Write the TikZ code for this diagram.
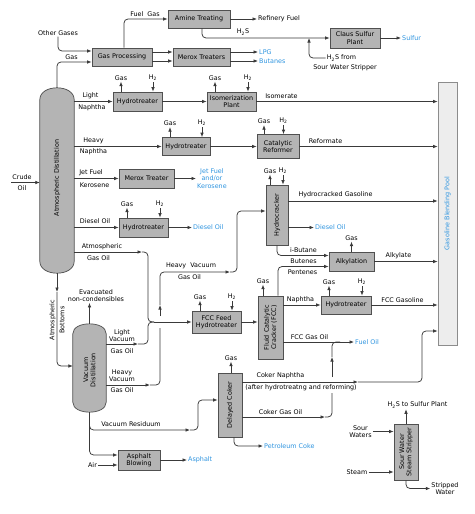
\documentclass[tikz,border=0pt]{standalone}
\usepackage{fontspec}
\setmainfont{DejaVu Sans}
\usetikzlibrary{arrows.meta,positioning}
\definecolor{Pipe}{HTML}{3A3A3A}
\definecolor{BoxEdge}{HTML}{505050}
\definecolor{BoxFill}{HTML}{B4B4B4}
\definecolor{PoolFill}{HTML}{EDEDED}
\definecolor{PoolEdge}{HTML}{8C8C8C}
\definecolor{Product}{HTML}{2F95E0}

\begin{document}
\begin{tikzpicture}[x=1pt,y=-1pt,
  lbl/.style={font=\fontsize{6.4}{7.4}\selectfont,inner sep=1pt,text=black},
  prod/.style={lbl,text=Product},
  unit/.style={draw=BoxEdge,fill=BoxFill,line width=0.7pt,font=\fontsize{6.4}{7.4}\selectfont,align=center,inner sep=1pt},
  colm/.style={draw=BoxEdge,fill=BoxFill,line width=0.7pt},
  pipe/.style={draw=Pipe,line width=0.75pt,rounded corners=4pt},
  flow/.style={pipe,-{Latex[length=4.5pt,width=3.6pt]}},
  inflow/.style={pipe,{Latex[length=4.5pt,width=3.6pt]}-}
]
\fill[white] (0,0) rectangle (474,514);
\useasboundingbox (0,0) rectangle (474,514);

% columns
\node[minimum width=34,minimum height=185,inner sep=0] (atm) at (57,180.5) {};
\node[minimum width=33,minimum height=88,inner sep=0] (vac) at (89.5,368) {};
\draw[colm] ([yshift=-12pt]atm.north west) .. controls ([yshift=4pt]atm.north west) and ([yshift=4pt]atm.north east) .. ([yshift=-12pt]atm.north east)
  -- ([yshift=12pt]atm.south east) .. controls ([yshift=-4pt]atm.south east) and ([yshift=-4pt]atm.south west) .. ([yshift=12pt]atm.south west) -- cycle;
\draw[colm] ([yshift=-10pt]vac.north west) .. controls ([yshift=3.3pt]vac.north west) and ([yshift=3.3pt]vac.north east) .. ([yshift=-10pt]vac.north east)
  -- ([yshift=10pt]vac.south east) .. controls ([yshift=-3.3pt]vac.south east) and ([yshift=-3.3pt]vac.south west) .. ([yshift=10pt]vac.south west) -- cycle;
\node[lbl,rotate=90] (atmtxt) at (57,178) {Atmospheric Distillation};
\node[lbl,rotate=90,align=center] (vactxt) at (89.5,370) {Vacuum\\Distillation};

% units
\node[unit,minimum width=60,minimum height=18] (gasproc) at (122,57) {Gas Processing};
\node[unit,minimum width=62,minimum height=18] (amine) at (199,19) {Amine Treating};
\node[unit,minimum width=50,minimum height=20] (claus) at (355,38) {Claus Sulfur\\Plant};
\node[unit,minimum width=57,minimum height=18] (merox) at (201.5,57) {Merox Treaters};
\node[unit,minimum width=49,minimum height=19] (ht1) at (137.5,101.5) {Hydrotreater};
\node[unit,minimum width=49,minimum height=19] (isom) at (231.5,101.5) {Isomerization\\Plant};
\node[unit,minimum width=48,minimum height=18] (ht2) at (186,146.5) {Hydrotreater};
\node[unit,minimum width=42,minimum height=24] (reform) at (278,146.5) {Catalytic\\Reformer};
\node[unit,minimum width=55,minimum height=19] (meroxt) at (146.5,178.5) {Merox Treater};
\node[unit,minimum width=49,minimum height=19] (ht3) at (143.5,227.5) {Hydrotreater};
\node[unit,minimum width=49,minimum height=22] (fccht) at (216.5,322) {FCC Feed\\Hydrotreater};
\node[unit,minimum width=22,minimum height=60] (hcrack) at (277,215) {};
\node[unit,minimum width=45,minimum height=19] (alky) at (351.5,261.5) {Alkylation};
\node[unit,minimum width=25,minimum height=63] (fcc) at (270.5,327.5) {};
\node[unit,minimum width=50,minimum height=18] (ht4) at (346,305) {Hydrotreater};
\node[unit,minimum width=24,minimum height=64] (coker) at (230,405) {};
\node[unit,minimum width=42,minimum height=20] (asphalt) at (139,460) {Asphalt\\Blowing};
\node[unit,minimum width=24,minimum height=56] (sws) at (406,452) {};
\node[draw=PoolEdge,fill=PoolFill,line width=0.6pt,minimum width=19,minimum height=263] (pool) at (447.5,213.5) {};
\node[lbl,rotate=90] (hcracktxt) at (hcrack) {Hydrocracker};
\node[lbl,rotate=90,align=center] (fcctxt) at (fcc) {Fluid Catalytic\\Cracker (FCC)};
\node[lbl,rotate=90] (cokertxt) at (coker) {Delayed Coker};
\node[lbl,rotate=90,align=center] (swstxt) at (sws) {Sour Water\\Steam Stripper};
\node[prod,rotate=90] (pooltxt) at (pool) {Gasoline Blending Pool};

% stream labels
\node[lbl] (crude) at (22,177) {Crude};
\node[lbl] (oil) at (22,188) {Oil};
\node[lbl] (othg) at (58,33) {Other Gases};
\node[lbl] (gaslbl) at (71.5,57) {Gas};
\node[lbl] (fuelg) at (145,14) {Fuel\ \ Gas};
\node[lbl,anchor=west] (rfuel) at (257,19) {Refinery Fuel};
\node[lbl] (h2slbl) at (243,32) {H\textsubscript{2}S};
\node[lbl] (h2sfrom) at (341.5,58) {H\textsubscript{2}S from};
\node[lbl] (swsnote) at (345,68) {Sour Water Stripper};
\node[prod,anchor=west] (sulfur) at (401,38) {Sulfur};
\node[prod,anchor=west] (lpg) at (258,52) {LPG};
\node[prod,anchor=west] (butanes) at (258,61) {Butanes};
\node[lbl] (light) at (90.5,96) {Light};
\node[lbl] (lnaph) at (92,107.5) {Naphtha};
\node[lbl] (isomlbl) at (281.5,96) {Isomerate};
\node[lbl] (heavy) at (93.5,141) {Heavy};
\node[lbl] (hnaph) at (93.5,152) {Naphtha};
\node[lbl] (reflbl) at (325.5,141) {Reformate};
\node[lbl] (jet) at (91,173) {Jet Fuel};
\node[lbl] (kero) at (94.5,185) {Kerosene};
\node[prod,align=center,anchor=west] (jetout) at (196,178.5) {Jet Fuel\\and/or\\Kerosene};
\node[lbl] (dsl) at (95,221) {Diesel Oil};
\node[prod,anchor=west] (diesel) at (192,227.5) {Diesel Oil};
\node[lbl] (atmgo) at (102,247) {Atmospheric};
\node[lbl] (atmgo2) at (98.5,258) {Gas Oil};
\node[lbl,align=center] (evac) at (96,295.5) {Evacuated\\non-condensibles};
\node[lbl,rotate=90,align=center] (atmb) at (57,320) {Atmospheric\\[2.5pt]Bottoms};
\node[lbl,align=center] (lvgo) at (122,335.5) {Light\\Vacuum};
\node[lbl] (lvgo2) at (122,351) {Gas Oil};
\node[lbl,align=center] (hvgo) at (122,376) {Heavy\\Vacuum};
\node[lbl] (hvgo2) at (122,390) {Gas Oil};
\node[lbl] (hvac) at (191,266) {Heavy\ \ Vacuum};
\node[lbl] (hvac2) at (189.5,277.5) {Gas Oil};
\node[lbl] (hcg) at (335.5,195) {Hydrocracked Gasoline};
\node[prod,anchor=west] (diesel2) at (314,227.5) {Diesel Oil};
\node[lbl] (ibut) at (303.5,250) {i-Butane};
\node[lbl] (butenes) at (303.5,261.5) {Butenes};
\node[lbl] (pentenes) at (302.5,272) {Pentenes};
\node[lbl] (alkylate) at (398.5,256) {Alkylate};
\node[lbl] (naph) at (300.5,300) {Naphtha};
\node[lbl] (fccg) at (402.5,300) {FCC Gasoline};
\node[lbl] (fccgo) at (309.5,337) {FCC Gas Oil};
\node[prod,anchor=west] (fueloil) at (354,342) {Fuel Oil};
\node[lbl] (cnaph) at (280.5,376) {Coker Naphtha};
\node[lbl] (after) at (301,388) {(after hydrotreatng and reforming)};
\node[lbl] (cgo) at (280.5,412) {Coker Gas Oil};
\node[prod,anchor=west] (pcoke) at (263,446) {Petroleum Coke};
\node[lbl] (vres) at (131,424) {Vacuum Residuum};
\node[lbl] (air) at (92.5,465) {Air};
\node[prod,anchor=west] (asph) at (187,460) {Asphalt};
\node[lbl] (h2ssp) at (417.5,405) {H\textsubscript{2}S to Sulfur Plant};
\node[lbl,align=center] (sourw) at (360.5,431.5) {Sour\\Waters};
\node[lbl] (steam) at (357,472) {Steam};
\node[lbl,align=center] (stripped) at (445,488.5) {Stripped\\Water};

% bends and gaps
\coordinate (crudein) at (11,182.5);
\coordinate (h2sjoin) at (309,38);
\coordinate (agoarr) at (142,252);
\coordinate (brace) at (148,322);
\coordinate (feed) at (154,322);
\coordinate (lvgoarr) at (138,344);
\coordinate (hvgoarr) at (150,385);
\coordinate (hvgap1) at (160,328);
\coordinate (hvgap2) at (160,316);
\coordinate (hvup) at (160,305);
\coordinate (hvarr) at (230,272);
\coordinate (hvrise) at (237,230);
\coordinate (bottarr) at (57,292);
\coordinate (vrarr) at (190,430);
\coordinate (vrrise) at (198,410);
\coordinate (cnarr) at (358,382);
\coordinate (cnrise) at (422,356);
\coordinate (cnend) at ([yshift=-117.5pt]pool.west);
\coordinate (cgoarr) at (325,417);
\coordinate (cgogap1) at (332,393);
\coordinate (cgogap2) at (332,377);
\coordinate (cgoup) at (332,357);
\coordinate (cgojoin) at (340,342);

% gas plant
\draw[flow] (crudein) -- (atm.west |- crudein);
\draw[flow] (othg.south) |- ([yshift=6pt]gasproc.west);
\draw[flow] (atm.north) |- ([yshift=-5pt]gasproc.west);
\draw[flow] ([xshift=2pt]gasproc.north) |- (amine.west);
\draw[flow] (amine.east) -- (rfuel.west);
\draw[flow] ([xshift=3pt]amine.south) |- (claus.west);
\draw[flow] (h2sfrom.west) -| (h2sjoin);
\draw[flow] (claus.east) -- (sulfur.west);
\draw[flow] ([yshift=5pt]gasproc.east) -- ([yshift=5pt]merox.west);
\draw[flow] ([yshift=-4pt]gasproc.east) -- ([yshift=-4pt]merox.west);
\draw[flow] ([yshift=5pt]merox.east) -- (lpg.west);
\draw[flow] ([yshift=-4pt]merox.east) -- (butanes.west);

% gas and hydrogen
\draw[flow] ([xshift=-16.5pt]ht1.north) -- ++(0,-10) node[lbl,above] (ht1gas) {Gas};
\draw[inflow] ([xshift=15.5pt]ht1.north) -- ++(0,-10) node[lbl,above] (ht1h2) {H\textsubscript{2}};
\draw[flow] ([xshift=-16.5pt]isom.north) -- ++(0,-10) node[lbl,above] (isomgas) {Gas};
\draw[inflow] ([xshift=16.5pt]isom.north) -- ++(0,-10) node[lbl,above] (isomh2) {H\textsubscript{2}};
\draw[flow] ([xshift=-16pt]ht2.north) -- ++(0,-10) node[lbl,above] (ht2gas) {Gas};
\draw[inflow] ([xshift=16pt]ht2.north) -- ++(0,-10) node[lbl,above] (ht2h2) {H\textsubscript{2}};
\draw[flow] ([xshift=-14pt]reform.north) -- ++(0,-9) node[lbl,above] (refgas) {Gas};
\draw[inflow] ([xshift=5.5pt]reform.north) -- ++(0,-9) node[lbl,above] (refh2) {H\textsubscript{2}};
\draw[flow] ([xshift=-16.5pt]ht3.north) -- ++(0,-10) node[lbl,above] (ht3gas) {Gas};
\draw[inflow] ([xshift=16.5pt]ht3.north) -- ++(0,-10) node[lbl,above] (ht3h2) {H\textsubscript{2}};
\draw[flow] ([xshift=-16.5pt]fccht.north) -- ++(0,-10) node[lbl,above] (fcchtgas) {Gas};
\draw[inflow] ([xshift=15.5pt]fccht.north) -- ++(0,-10) node[lbl,above] (fcchth2) {H\textsubscript{2}};
\draw[flow] ([xshift=-7pt]hcrack.north) -- ++(0,-10) node[lbl,above] (hcrackgas) {Gas};
\draw[inflow] ([xshift=6pt]hcrack.north) -- ++(0,-10) node[lbl,above] (hcrackh2) {H\textsubscript{2}};
\draw[flow] (alky.north) -- ++(0,-10) node[lbl,above] (alkygas) {Gas};
\draw[flow] ([xshift=-7.5pt]fcc.north) -- ++(0,-11) node[lbl,above] (fccgas) {Gas};
\draw[flow] ([xshift=-17pt]ht4.north) -- ++(0,-10) node[lbl,above] (ht4gas) {Gas};
\draw[inflow] ([xshift=16pt]ht4.north) -- ++(0,-10) node[lbl,above] (ht4h2) {H\textsubscript{2}};
\draw[flow] ([xshift=1pt]coker.north) -- ++(0,-11) node[lbl,above] (cokergas) {Gas};

% atmospheric side streams
\draw[flow] (atm.east |- ht1.west) -- (ht1.west);
\draw[flow] (ht1.east) -- (isom.west);
\draw[flow] (isom.east) -- (isom.east -| pool.west);
\draw[flow] (atm.east |- ht2.west) -- (ht2.west);
\draw[flow] (ht2.east) -- (reform.west);
\draw[flow] (reform.east) -- (reform.east -| pool.west);
\draw[flow] (atm.east |- meroxt.west) -- (meroxt.west);
\draw[flow] (meroxt.east) -- (jetout.west);
\draw[flow] (atm.east |- ht3.west) -- (ht3.west);
\draw[flow] (ht3.east) -- (diesel.west);
\draw[flow] (atm.east |- agoarr) -- (agoarr);
\draw[pipe] (agoarr) -| (brace) -- (feed);
\draw[flow] (atm.south) -- (bottarr);
\draw[flow] (bottarr) |- ([yshift=2pt]vac.west);

% vacuum side streams
\draw[flow] (vac.north) -- (vac.north |- evac.south);
\draw[flow] (vac.east |- lvgoarr) -- (lvgoarr);
\draw[pipe] (lvgoarr) -| (brace) -- (feed);
\draw[flow] (feed) -- (fccht.west);
\draw[flow] (vac.east |- hvgoarr) -- (hvgoarr);
\draw[pipe] (hvgoarr) -| (hvgap1);
\draw[flow] (hvgap2) -- (hvup);
\draw[flow] (hvup) |- (hvarr);
\draw[flow] (hvarr) -| (hvrise) |- ([yshift=4pt]hcrack.west);
\draw[flow] (vac.south) |- (vrarr);
\draw[flow] (vrarr) -| (vrrise) |- ([yshift=5pt]coker.west);
\draw[flow] (vac.south) |- ([yshift=5pt]asphalt.west);
\draw[flow] (air.east) -- ([yshift=-5pt]asphalt.west);
\draw[flow] (asphalt.east) -- (asph.west);

% conversion units
\draw[flow] ([yshift=14pt]hcrack.east) -- ([yshift=14pt]hcrack.east -| pool.west);
\draw[flow] ([yshift=-12.5pt]hcrack.east) -- (diesel2.west);
\draw[flow] (hcrack.south) |- ([yshift=6pt]alky.west);
\draw[flow] ([xshift=7.5pt]fcc.north) |- ([yshift=-5pt]alky.west);
\draw[flow] (alky.east) -- (alky.east -| pool.west);
\draw[flow] (fccht.east) -- (fcc.west |- fccht.east);
\draw[flow] (fcc.east |- ht4.west) -- (ht4.west);
\draw[flow] (ht4.east) -- (ht4.east -| pool.west);
\draw[flow] (fcc.east |- fueloil.west) -- (fueloil.west);
\draw[flow] (coker.east |- cnarr) -- (cnarr);
\draw[flow] (cnarr) -| (cnrise) |- (cnend);
\draw[flow] (coker.east |- cgoarr) -- (cgoarr);
\draw[pipe] (cgoarr) -| (cgogap1);
\draw[flow] (cgogap2) -- (cgoup);
\draw[pipe] (cgoup) |- (cgojoin);
\draw[flow] ([xshift=4pt]coker.south) |- (pcoke.west);

% sour water stripper
\draw[flow] (sws.north) -- (sws.north |- h2ssp.south);
\draw[flow] (sourw.east) -- (sws.west |- sourw.east);
\draw[flow] (steam.east) -- (sws.west |- steam.east);
\draw[flow] (sws.south) |- (stripped.west);
\end{tikzpicture}
\end{document}
